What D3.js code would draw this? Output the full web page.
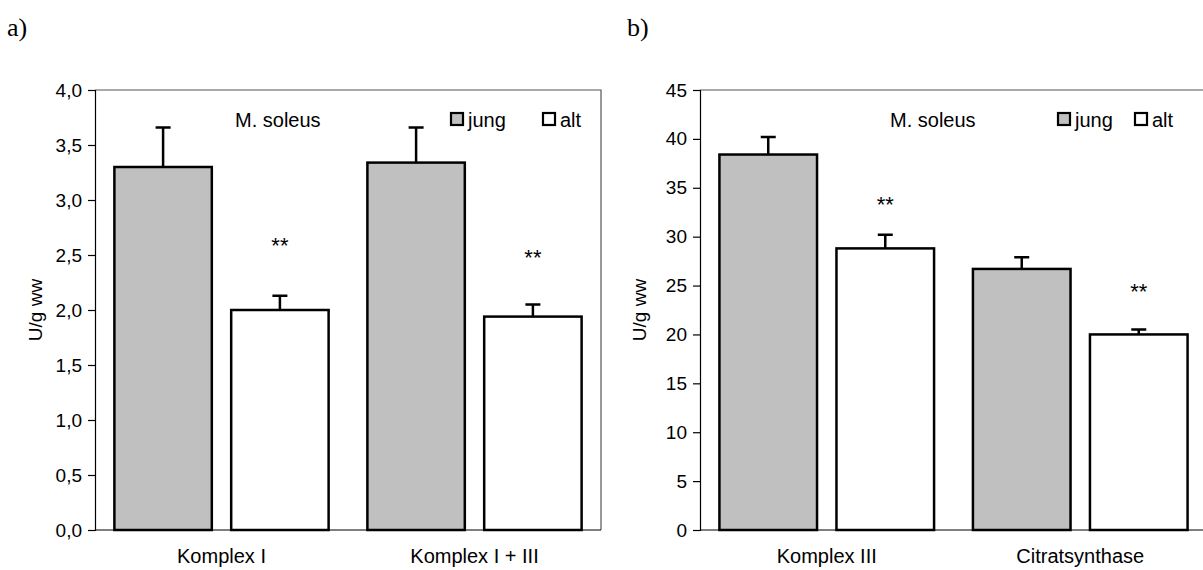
<!DOCTYPE html>
<html>
<head>
<meta charset="utf-8">
<script src="https://cdn.jsdelivr.net/npm/d3@7"></script>
<style>
  html, body { margin: 0; padding: 0; background: #fff; }
  svg { display: block; }
  text { font-family: "Liberation Sans", Arial, sans-serif; fill: #000; }
</style>
</head>
<body>
<svg id="chart" width="1203" height="570"></svg>
<script>
// Enzyme activities in M. soleus, young (jung) vs. old (alt), mean + SEM
const seriesNames = ["jung", "alt"];

// Panel a
const categoriesA = ["Komplex I", "Komplex I + III"];
const jungA = [3.30, 3.34];
const jungErrA = [0.36, 0.32];
const altA = [2.00, 1.94];
const altErrA = [0.13, 0.11];
const sigA = [2.64, 2.53];          // level of the "**" marks
const ticksA = [0, 0.5, 1.0, 1.5, 2.0, 2.5, 3.0, 3.5, 4.0];

// Panel b
const categoriesB = ["Komplex III", "Citratsynthase"];
const jungB = [38.4, 26.7];
const jungErrB = [1.8, 1.2];
const altB = [28.8, 20.0];
const altErrB = [1.4, 0.5];
const sigB = [33.9, 25.0];
const ticksB = [0, 5, 10, 15, 20, 25, 30, 35, 40, 45];

const de = d3.formatLocale({ decimal: ",", thousands: ".", grouping: [3], currency: ["", " €"] });

const svg = d3.select("#chart");
const fills = { jung: "#c0c0c0", alt: "#ffffff" };
const FS = 20;      // labels, legend, inner title
const FS_TICK = 19; // axis tick labels and axis title

function drawPanel(p) {
  const g = svg.append("g");
  const x0 = d3.scaleBand().domain(p.categories).range([p.left, p.left + p.width]).padding(0);
  const x1 = d3.scaleBand().domain(seriesNames).range([0, x0.bandwidth()])
    .paddingInner(0.166).paddingOuter(0.166);
  const y = d3.scaleLinear().domain([0, p.max]).range([p.bottom, p.top]);

  // plot frame (top and right)
  g.append("path")
    .attr("d", `M${p.left},${p.top}H${p.left + p.width}V${p.bottom}`)
    .attr("fill", "none").attr("stroke", "#555").attr("stroke-width", 1.2);

  const rows = [];
  p.categories.forEach((c, i) => {
    rows.push({ c, s: "jung", v: p.jung[i], e: p.jungErr[i] });
    rows.push({ c, s: "alt", v: p.alt[i], e: p.altErr[i], sig: p.sig[i] });
  });

  // bars
  g.selectAll("rect.bar").data(rows).join("rect")
    .attr("class", "bar")
    .attr("x", d => x0(d.c) + x1(d.s))
    .attr("y", d => y(d.v))
    .attr("width", x1.bandwidth())
    .attr("height", d => y(0) - y(d.v))
    .attr("fill", d => fills[d.s])
    .attr("stroke", "#000").attr("stroke-width", 2.5);

  // error bars (upper only)
  const cx = d => x0(d.c) + x1(d.s) + x1.bandwidth() / 2;
  g.selectAll("path.err").data(rows).join("path")
    .attr("class", "err")
    .attr("d", d => `M${cx(d)},${y(d.v)}V${y(d.v + d.e)}M${cx(d) - 7.5},${y(d.v + d.e)}H${cx(d) + 7.5}`)
    .attr("fill", "none").attr("stroke", "#000").attr("stroke-width", 2.5);

  // significance marks
  g.selectAll("text.sig").data(rows.filter(d => d.sig != null)).join("text")
    .attr("class", "sig")
    .attr("x", cx)
    .attr("y", d => y(d.sig) + 13)
    .attr("text-anchor", "middle")
    .style("font-size", "22px")
    .text("**");

  // y axis
  const ya = g.append("g").attr("transform", `translate(${p.left},0)`)
    .call(d3.axisLeft(y).tickValues(p.ticks).tickSize(7).tickPadding(6).tickFormat(p.fmt));
  ya.select(".domain").attr("stroke", "#000").attr("stroke-width", 1.2);
  ya.selectAll(".tick line").attr("stroke", "#000").attr("stroke-width", 1.2);
  ya.selectAll(".tick text").style("font-size", FS_TICK + "px").attr("font-family", null);

  // x axis baseline
  g.append("line")
    .attr("x1", p.left).attr("x2", p.left + p.width)
    .attr("y1", y(0)).attr("y2", y(0))
    .attr("stroke", "#000").attr("stroke-width", 1.2);

  // category labels
  g.selectAll("text.cat").data(p.categories).join("text")
    .attr("class", "cat")
    .attr("x", d => x0(d) + x0.bandwidth() / 2)
    .attr("y", p.bottom + 33)
    .attr("text-anchor", "middle")
    .style("font-size", FS + "px")
    .text(d => d);

  // y axis title
  g.append("text")
    .attr("transform", `translate(${p.titleX},${(p.top + p.bottom) / 2}) rotate(-90)`)
    .attr("text-anchor", "middle")
    .style("font-size", FS_TICK + "px")
    .text("U/g ww");

  // inner title
  g.append("text").attr("x", p.subX).attr("y", 127)
    .style("font-size", FS + "px").text("M. soleus");

  // legend
  const lg = g.selectAll("g.leg").data(seriesNames).join("g")
    .attr("class", "leg")
    .attr("transform", (d, i) => `translate(${p.legX[i]},113)`);
  lg.append("rect").attr("width", 12).attr("height", 12)
    .attr("fill", d => fills[d]).attr("stroke", "#000").attr("stroke-width", 2.2);
  lg.append("text").attr("x", 17).attr("y", 14)
    .style("font-size", FS + "px").text(d => d);

  // panel letter
  svg.append("text").attr("x", p.letterX).attr("y", 36)
    .style("font-family", "'Liberation Serif', 'Times New Roman', serif")
    .style("font-size", "26px")
    .text(p.letter);
}

drawPanel({
  letter: "a)", letterX: 7,
  categories: categoriesA, jung: jungA, jungErr: jungErrA, alt: altA, altErr: altErrA, sig: sigA,
  ticks: ticksA, max: 4.0, fmt: de.format(".1f"),
  left: 95, width: 506, top: 90, bottom: 530,
  titleX: 42, subX: 235, legX: [451, 543]
});

drawPanel({
  letter: "b)", letterX: 627,
  categories: categoriesB, jung: jungB, jungErr: jungErrB, alt: altB, altErr: altErrB, sig: sigB,
  ticks: ticksB, max: 45, fmt: de.format("d"),
  left: 700, width: 507, top: 90, bottom: 530,
  titleX: 646, subX: 890, legX: [1058, 1135]
});
</script>
</body>
</html>
